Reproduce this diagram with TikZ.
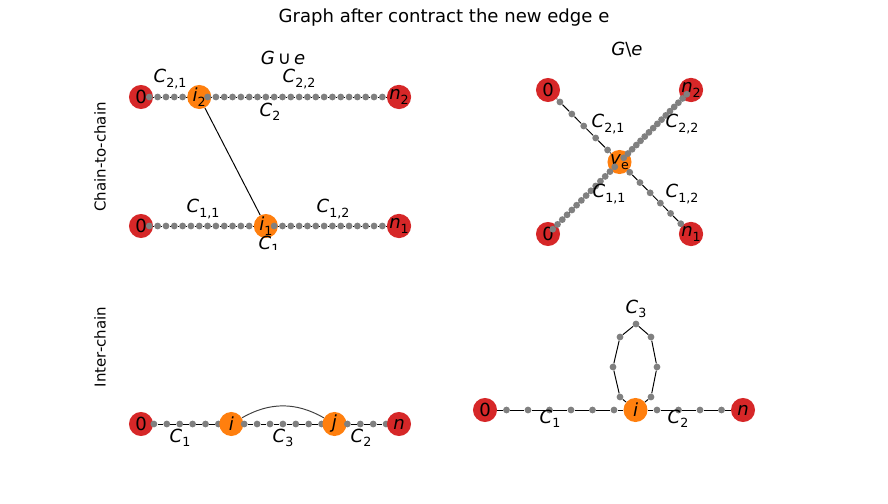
\documentclass[tikz,border=0pt]{standalone}
\usepackage{fontspec}
\setmainfont{DejaVu Sans}
\usetikzlibrary{calc,backgrounds}

\definecolor{endred}{HTML}{D62728}
\definecolor{midorange}{HTML}{FF7F0E}
\definecolor{dotgray}{HTML}{808080}

\newcommand{\sublab}[2]{\textit{#1}\raisebox{-0.24em}{\scalebox{0.7}{#2}}}

\tikzset{
  bignode/.style={circle,minimum size=17.3pt,inner sep=0pt,font=\fontsize{13}{15}\selectfont},
  endnode/.style={bignode,fill=endred},
  midnode/.style={bignode,fill=midorange},
  chaindot/.style={circle,fill=dotgray,minimum size=4.9pt,inner sep=0pt},
  chainedge/.style={black,line width=0.7pt},
  clabel/.style={inner sep=0pt,font=\fontsize{13}{15}\selectfont},
  rowlabel/.style={inner sep=0pt,rotate=90,font=\fontsize{10.8}{13}\selectfont},
}

\begin{document}
\begin{tikzpicture}[x=0.72pt,y=-0.72pt]
  \useasboundingbox (0,0) rectangle (888,504);

  %titres
  \node[clabel] (title) at (444,18) {Graph after contract the new edge e};
  \node[clabel] (lefttitle) at (283,58) {\textit{G}\,∪\,\textit{e}};
  \node[clabel] (righttitle) at (627,50) {\textit{G}\textbackslash\textit{e}};
  \node[rowlabel] (rowa) at (100,157) {Chain-to-chain};
  \node[rowlabel] (rowb) at (100,347) {Inter-chain};

  %chaine C2
  \node[endnode] (a0) at (141,97) {0};
  \foreach \k in {1,...,6} \node[chaindot] (a\k) at ({141+\k*258/31},97) {};
  \node[midnode] (a7) at ({141+7*258/31},97) {\sublab{i}{2}};
  \foreach \k in {8,...,30} \node[chaindot] (a\k) at ({141+\k*258/31},97) {};
  \node[endnode] (a31) at (399,97) {\sublab{n}{2}};

  %chaine C1
  \node[endnode] (b0) at (141,226) {0};
  \foreach \k in {1,...,14} \node[chaindot] (b\k) at ({141+\k*258/31},226) {};
  \node[midnode] (b15) at ({141+15*258/31},226) {\sublab{i}{1}};
  \foreach \k in {16,...,30} \node[chaindot] (b\k) at ({141+\k*258/31},226) {};
  \node[endnode] (b31) at (399,226) {\sublab{n}{1}};

  \node[clabel] (c21) at (170,79) {\sublab{C}{2,1}};
  \node[clabel] (c22) at (299,79) {\sublab{C}{2,2}};
  \node[clabel] (c2) at (270,112) {\sublab{C}{2}};
  \node[clabel] (c11) at (203,209) {\sublab{C}{1,1}};
  \node[clabel] (c12) at (333,209) {\sublab{C}{1,2}};
  \begin{scope}
    \clip (200,0) rectangle (340,250);
    \node[clabel] (c1) at (269,245) {\sublab{C}{1}};
  \end{scope}

  \begin{scope}[on background layer]
    \foreach \k [remember=\k as \j (initially 0)] in {1,...,31} {
      \draw[chainedge] (a\j) -- (a\k);
      \draw[chainedge] (b\j) -- (b\k);
    }
    \draw[chainedge] (a7) -- (b15);
  \end{scope}

  %G sans e
  \node[endnode] (ul) at (548,90) {0};
  \node[endnode] (ur) at (691,90) {\sublab{n}{2}};
  \node[endnode] (ll) at (548,234) {0};
  \node[endnode] (lr) at (691,234) {\sublab{n}{1}};
  \node[midnode] (ve) at (619.5,162) {\sublab{v}{e}};
  \foreach \arm/\n in {ul/6,ur/17,ll/15,lr/7} {
    \pgfmathtruncatemacro\m{\n-1}
    \foreach \k in {1,...,\m} \node[chaindot] (\arm\k) at ($(ve)!\k/\n!(\arm)$) {};
    \begin{scope}[on background layer]
      \draw[chainedge] (ve) -- (\arm1);
      \foreach \k [remember=\k as \j (initially 1)] in {2,...,\m} \draw[chainedge] (\arm\j) -- (\arm\k);
      \draw[chainedge] (\arm\m) -- (\arm);
    \end{scope}
  }
  \node[clabel] (g21) at (608,124) {\sublab{C}{2,1}};
  \node[clabel] (g22) at (682,124) {\sublab{C}{2,2}};
  \node[clabel] (g11) at (609,194) {\sublab{C}{1,1}};
  \node[clabel] (g12) at (682,194) {\sublab{C}{1,2}};

  %inter-chain, G u e
  \node[endnode] (d0) at (141,424) {0};
  \foreach \k in {1,...,6} \node[chaindot] (d\k) at ({141+\k*12.9},424) {};
  \node[midnode] (d7) at ({141+7*12.9},424) {\textit{i}};
  \foreach \k in {8,...,14} \node[chaindot] (d\k) at ({141+\k*12.9},424) {};
  \node[midnode] (d15) at ({141+15*12.9},424) {\textit{j}};
  \foreach \k in {16,...,19} \node[chaindot] (d\k) at ({141+\k*12.9},424) {};
  \node[endnode] (d20) at (399,424) {\textit{n}};
  \begin{scope}[on background layer]
    \foreach \k [remember=\k as \j (initially 0)] in {1,...,20} \draw[chainedge] (d\j) -- (d\k);
    \draw[chainedge,black!75] (d7) to[bend left=30] (d15);
  \end{scope}
  \node[clabel] (e1lab) at (180,438) {\sublab{C}{1}};
  \node[clabel] (e3lab) at (283,438) {\sublab{C}{3}};
  \node[clabel] (e2lab) at (361,438) {\sublab{C}{2}};

  %inter-chain, G sans e
  \node[endnode] (e0) at (485,410) {0};
  \foreach \k in {1,...,6} \node[chaindot] (e\k) at ({485+\k*21.5},410) {};
  \node[midnode] (e7) at ({485+7*21.5},410) {\textit{i}};
  \foreach \k in {8,...,11} \node[chaindot] (e\k) at ({485+\k*21.5},410) {};
  \node[endnode] (e12) at (743,410) {\textit{n}};
  \foreach \k/\p in {1/{620,397},2/{613,367},3/{620,337},4/{636,324},5/{651,337},6/{657,367},7/{651,397}}
    \node[chaindot] (q\k) at (\p) {};
  \begin{scope}[on background layer]
    \foreach \k [remember=\k as \j (initially 0)] in {1,...,12} \draw[chainedge] (e\j) -- (e\k);
    \draw[chainedge] (e7) -- (q1) -- (q2) -- (q3) -- (q4) -- (q5) -- (q6) -- (q7) -- (e7);
  \end{scope}
  \node[clabel] (f1lab) at (550,419) {\sublab{C}{1}};
  \node[clabel] (f2lab) at (678,419) {\sublab{C}{2}};
  \node[clabel] (f3lab) at (636,309) {\sublab{C}{3}};
\end{tikzpicture}
\end{document}
